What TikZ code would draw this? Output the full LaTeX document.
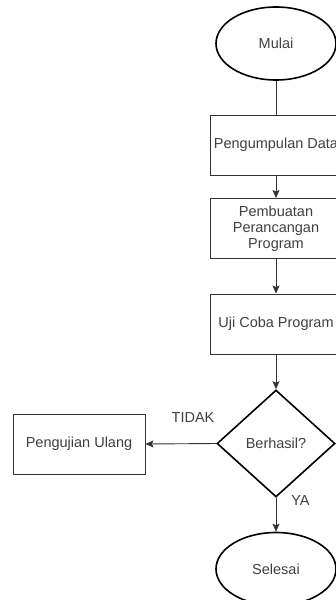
\documentclass[tikz,border=0pt]{standalone}
\usepackage{fontspec}
\setmainfont{Liberation Sans}
\usetikzlibrary{shapes.geometric,arrows.meta}
\definecolor{inkline}{HTML}{333333}
\definecolor{inktext}{HTML}{404040}
\tikzset{
  terminal/.style={ellipse, draw=black, line width=1.6pt, minimum width=120pt, minimum height=73pt, inner sep=0pt, text=inktext},
  process/.style={rectangle, draw=inkline, line width=0.9pt, minimum width=132pt, minimum height=60pt, inner sep=2pt, align=center, text=inktext},
  decision/.style={diamond, draw=black, line width=1.6pt, minimum width=118pt, minimum height=107pt, inner sep=0pt, text=inktext},
  flow/.style={draw=inkline, line width=0.9pt, -{Stealth[length=8pt,width=7pt,inset=1.5pt]}},
  plain/.style={draw=inkline, line width=0.9pt},
  lbl/.style={text=inktext, inner sep=0pt}
}
\begin{document}
\begin{tikzpicture}[x=1pt, y=-1pt, font=\fontsize{14.5pt}{17pt}\selectfont]
\useasboundingbox (0,0) rectangle (336,600);
\clip (0,0) rectangle (336,600);

% nodes of the flow
\node[terminal] (mulai) at (276,43.5) {Mulai};
\node[process] (kumpul) at (276,145) {Pengumpulan Data};
\node[process] (rancang) at (276,228.5) {Pembuatan\\[-1pt]Perancangan\\[-1pt]Program};
\node[process] (uji) at (276,324) {Uji Coba Program};
\node[decision] (cek) at (276,443.5) {Berhasil?};
\node[process] (ulang) at (79,444) {Pengujian Ulang};
\node[terminal] (selesai) at (276,569) {Selesai};

% connectors
\draw[plain] (mulai) -- (kumpul);
\draw[flow] (kumpul) -- (rancang);
\draw[flow] (rancang) -- (uji);
\draw[flow] (uji) -- (cek);
\draw[flow] (cek.west) -- (ulang.east);
\draw[flow] (cek.south) -- (selesai.north);

% branch labels
\node[lbl] (tidak) at (193,418) {TIDAK};
\node[lbl] (ya) at (300.5,501) {YA};
\end{tikzpicture}
\end{document}
